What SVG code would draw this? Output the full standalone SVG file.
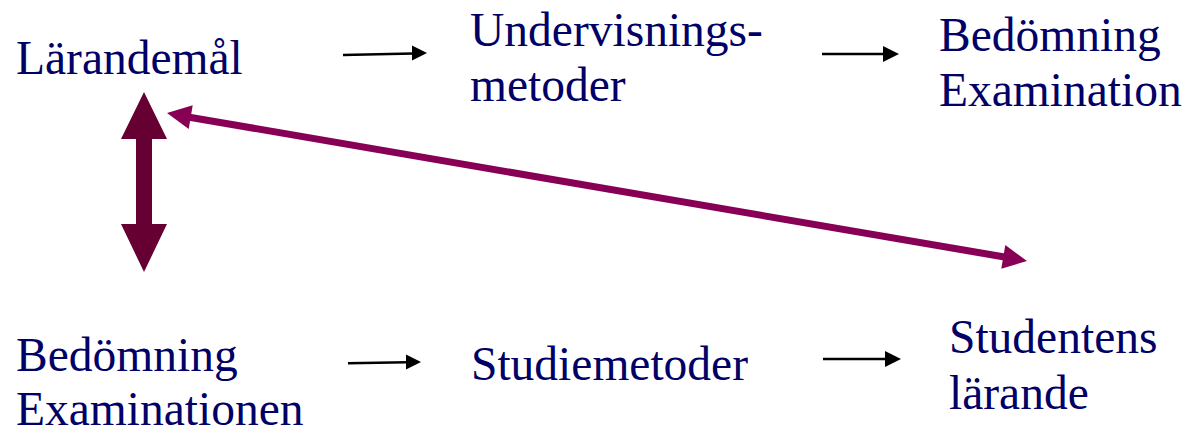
<svg xmlns="http://www.w3.org/2000/svg" width="1188" height="432" viewBox="0 0 1188 432">
<style>
  .t { font-family: "Liberation Serif", "Times New Roman", serif; font-size: 47.5px; fill: #000066; }
  .sm { stroke: #000; stroke-width: 2.5; fill: none; }
  .hd { fill: #000; }
</style>
<rect width="1188" height="432" fill="#fff"/>
<g id="larandemal"><text class="t" x="16" y="74">Lärandemål</text></g>
<g id="undervisningsmetoder"><text class="t" x="470" y="46">Undervisnings-</text><text class="t" x="470" y="101">metoder</text></g>
<g id="bedomning-examination"><text class="t" x="939" y="51">Bedömning</text><text class="t" x="939" y="106">Examination</text></g>
<g id="bedomning-examinationen"><text class="t" x="16" y="371">Bedömning</text><text class="t" x="16" y="425">Examinationen</text></g>
<g id="studiemetoder"><text class="t" x="471" y="380">Studiemetoder</text></g>
<g id="studentens-larande"><text class="t" x="949" y="353">Studentens</text><text class="t" x="949" y="409">lärande</text></g>
<g id="connectors">
  <line class="sm" x1="343" y1="55" x2="413" y2="53.4"/>
  <polygon class="hd" points="427,53 412,45.5 412,60.5"/>
  <line class="sm" x1="822" y1="54" x2="884" y2="54"/>
  <polygon class="hd" points="899,54 883,46 883,62"/>
  <line class="sm" x1="348" y1="363.3" x2="407" y2="362.2"/>
  <polygon class="hd" points="421,362 406,354.5 406,369.5"/>
  <line class="sm" x1="823" y1="359" x2="886" y2="359"/>
  <polygon class="hd" points="901,359 885,351 885,367"/>
  <polygon fill="#660033" points="144,92 167,139 152,139 152,224 167,224 144,272 121,224 136,224 136,139 121,139"/>
  <line x1="188" y1="117" x2="1006" y2="257.3" stroke="#880055" stroke-width="7"/>
  <polygon fill="#880055" points="167,113 192.7,105.3 188.7,128.9"/>
  <polygon fill="#880055" points="1027,261 1005.3,245.1 1001.3,268.7"/>
</g>
</svg>
